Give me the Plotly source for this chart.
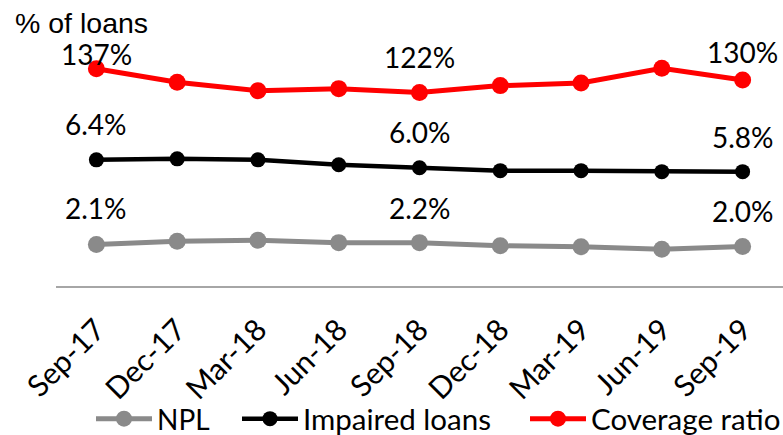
import plotly.graph_objects as go

categories = ["Sep-17", "Dec-17", "Mar-18", "Jun-18", "Sep-18", "Dec-18", "Mar-19", "Jun-19", "Sep-19"]
npl = [2.1, 2.27, 2.32, 2.2, 2.2, 2.04, 1.99, 1.86, 2.0]
impaired = [6.4, 6.45, 6.4, 6.15, 6.0, 5.85, 5.85, 5.8, 5.8]
coverage = [137, 128.5, 123.2, 124.5, 122, 126.4, 128, 137.4, 130]
label_idx = [0, 4, 8]

# style
W, H = 783, 435
ML, MR, MT, MB = 56, 0, 10, 149
LBL_FONT = "Lato"
GRAY, BLACK, RED = "#8a8a8a", "#000000", "#FF0000"
cov_shift = [15, 36, 28]
imp_shift = [36, 36, 35]
npl_shift = [37, 35, 36]
legend_x_px = [91, 237, 525]
legend_y_px = 419

fig = go.Figure()
fig.add_trace(go.Scatter(x=categories, y=npl, name="NPL", mode="lines+markers",
                         line=dict(color=GRAY, width=5), marker=dict(size=17, color=GRAY),
                         cliponaxis=False, legend="legend"))
fig.add_trace(go.Scatter(x=categories, y=impaired, name="Impaired loans", mode="lines+markers",
                         line=dict(color=BLACK, width=4.5), marker=dict(size=15, color=BLACK),
                         cliponaxis=False, legend="legend2"))
fig.add_trace(go.Scatter(x=categories, y=coverage, name="Coverage ratio", mode="lines+markers",
                         line=dict(color=RED, width=5), marker=dict(size=17, color=RED),
                         yaxis="y2", cliponaxis=False, legend="legend3"))

anns = []
for k, i in enumerate(label_idx):
    anns.append(dict(x=categories[i], y=npl[i], text=f"{npl[i]:.1f}%", showarrow=False,
                     yanchor="middle", yshift=npl_shift[k], xref="x", yref="y",
                     font=dict(family=LBL_FONT, size=28, color="black")))
    anns.append(dict(x=categories[i], y=impaired[i], text=f"{impaired[i]:.1f}%", showarrow=False,
                     yanchor="middle", yshift=imp_shift[k], xref="x", yref="y",
                     font=dict(family=LBL_FONT, size=28, color="black")))
    anns.append(dict(x=categories[i], y=coverage[i], text=f"{coverage[i]:.0f}%", showarrow=False,
                     yanchor="middle", yshift=cov_shift[k], xref="x", yref="y2",
                     font=dict(family=LBL_FONT, size=28, color="black")))

anns.append(dict(x=(13 - ML) / (W - ML - MR), y=(286 - 23) / (H - MT - MB), xref="paper", yref="paper",
                 text="% of loans", showarrow=False, xanchor="left", yanchor="middle",
                 font=dict(family="Liberation Sans", size=28.5, color="black")))

def leg(xpx, size):
    return dict(orientation="h", xref="container", yref="container",
                x=xpx / W, xanchor="left", y=(H - legend_y_px) / H, yanchor="middle",
                font=dict(family=LBL_FONT, size=size, color="black"),
                bgcolor="rgba(0,0,0,0)", itemwidth=56)

fig.update_layout(
    width=W, height=H,
    margin=dict(l=ML, r=MR, t=MT, b=MB, autoexpand=False),
    paper_bgcolor="white", plot_bgcolor="white",
    showlegend=True,
    legend=leg(legend_x_px[0], 28),
    legend2=leg(legend_x_px[1], 29.5),
    legend3=leg(legend_x_px[2], 29.5),
    xaxis=dict(type="category", range=[-0.5, 8.5], showline=True, linecolor="#A6A6A6", linewidth=2,
               showgrid=False, ticks="", tickangle=-45, zeroline=False, automargin=False,
               ticklabelstandoff=12,
               tickfont=dict(family=LBL_FONT, size=30, color="black")),
    yaxis=dict(range=[0, 14], visible=False, showgrid=False),
    yaxis2=dict(range=[0, 174.1], overlaying="y", visible=False, showgrid=False),
    annotations=anns,
)

fig.write_html("out.html")
